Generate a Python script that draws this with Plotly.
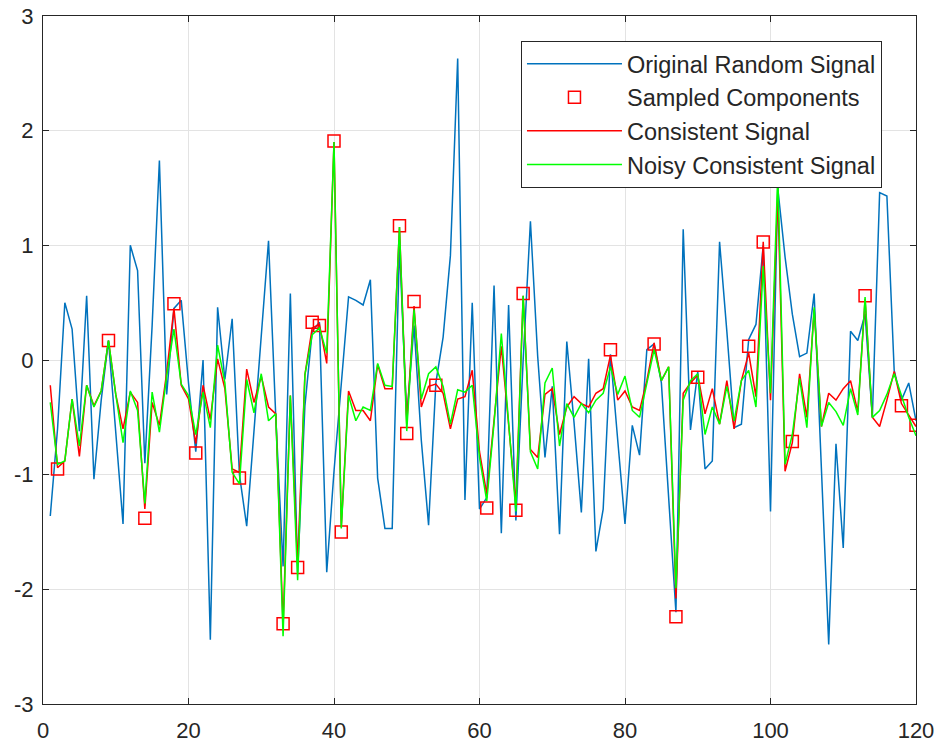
import plotly.graph_objects as go

# ---------------- data ----------------
n = list(range(1, 121))

original = [
    -1.36, -0.60, 0.50, 0.27, -0.62, 0.56, -1.04, -0.35, 0.17, -0.60,
    -1.43, 1.00, 0.78, -0.90, 0.30, 1.74, -0.30, 0.45, 0.52, -0.20,
    -0.80, 0.00, -2.44, 0.46, -0.17, 0.36, -1.00, -1.45, -0.63, 0.20,
    1.04, -0.50, -1.80, 0.58, -1.85, -0.40, 0.25, 0.33, -1.85, -0.97,
    -0.20, 0.55, 0.52, 0.48, 0.70, -1.03, -1.47, -1.47, 1.00, -0.50,
    0.30, -0.70, -1.44, -0.20, 0.20, 0.91, 2.63, -1.22, 0.50, -1.30,
    -1.20, 0.65, -1.51, 0.48, -1.40, 0.00, 1.21, 0.03, -0.85, -0.23,
    -1.52, 0.16, -0.55, -1.33, 0.01, -1.67, -1.30, 0.05, -0.70, -1.43,
    -0.57, -0.83, 0.09, 0.14, -0.20, -1.20, -2.20, 1.14, -0.61, -0.10,
    -0.95, -0.88, 1.03, 0.25, -0.59, -0.56, 0.18, 0.31, 1.00, -1.32,
    1.50, 0.90, 0.40, 0.03, 0.06, 0.58, -0.95, -2.48, -0.73, -1.64,
    0.25, 0.17, 0.40, -0.50, 1.46, 1.43, -0.09, -0.35, -0.20, -0.53,
]

consistent = [
    -0.22, -0.94, -0.88, -0.34, -0.84, -0.22, -0.40, -0.27, 0.17, -0.30,
    -0.60, -0.28, -0.37, -1.30, -0.37, -0.57, -0.11, 0.45, -0.22, -0.34,
    -0.73, -0.22, -0.52, 0.01, -0.25, -0.95, -0.98, -0.08, -0.37, -0.14,
    -0.41, -0.47, -2.32, -0.31, -1.78, -0.13, 0.28, 0.31, -0.03, 1.90,
    -1.46, -0.27, -0.44, -0.44, -0.53, -0.04, -0.25, -0.25, 1.16, -0.56,
    0.47, -0.41, -0.23, -0.21, -0.29, -0.60, -0.34, -0.32, -0.09, -0.80,
    -1.17, -0.50, 0.12, -0.56, -1.26, 0.56, -0.78, -0.85, -0.30, -0.25,
    -0.65, -0.41, -0.32, -0.38, -0.41, -0.29, -0.25, 0.04, -0.35, -0.27,
    -0.41, -0.44, -0.18, 0.15, -0.18, -0.06, -2.08, -0.29, -0.20, -0.13,
    -0.47, -0.25, -0.56, -0.18, -0.60, -0.18, 0.06, -0.32, 1.03, -0.35,
    1.45, -0.97, -0.72, -0.12, -0.50, 0.44, -0.58, -0.29, -0.35, -0.25,
    -0.18, -0.45, 0.53, -0.50, -0.58, -0.35, -0.10, -0.38, -0.48, -0.58,
]

noisy = [
    -0.37, -0.91, -0.88, -0.34, -0.75, -0.22, -0.41, -0.27, 0.17, -0.30,
    -0.72, -0.27, -0.44, -1.25, -0.28, -0.63, -0.14, 0.27, -0.21, -0.31,
    -0.65, -0.28, -0.59, 0.13, -0.20, -0.98, -1.08, -0.17, -0.46, -0.12,
    -0.53, -0.47, -2.41, -0.31, -1.92, -0.13, 0.22, 0.28, 0.06, 1.90,
    -1.47, -0.31, -0.53, -0.41, -0.44, -0.03, -0.22, -0.23, 1.16, -0.62,
    0.44, -0.34, -0.12, -0.06, -0.23, -0.56, -0.26, -0.28, -0.22, -0.85,
    -1.23, -0.55, 0.23, -0.52, -1.32, 0.56, -0.80, -0.95, -0.20, -0.07,
    -0.75, -0.38, -0.50, -0.38, -0.46, -0.35, -0.29, -0.06, -0.30, -0.14,
    -0.44, -0.50, -0.20, 0.09, -0.18, -0.06, -1.99, -0.35, -0.18, -0.12,
    -0.65, -0.41, -0.56, -0.23, -0.53, -0.18, -0.09, -0.41, 0.82, -0.29,
    1.62, -0.91, -0.65, -0.16, -0.59, 0.46, -0.58, -0.37, -0.45, -0.57,
    -0.25, -0.48, 0.55, -0.50, -0.44, -0.30, -0.12, -0.32, -0.50, -0.66,
]

sample_idx = [2, 9, 14, 18, 21, 27, 33, 35, 37, 38, 40, 41, 49, 50, 51, 54,
              61, 65, 66, 78, 84, 87, 90, 97, 99, 103, 113, 118, 120]
sample_val = [-0.95, 0.17, -1.38, 0.49, -0.81, -1.03, -2.30, -1.81, 0.33, 0.30,
              1.91, -1.50, 1.17, -0.64, 0.51, -0.22, -1.29, -1.31, 0.58, 0.09,
              0.14, -2.24, -0.15, 0.12, 1.03, -0.71, 0.56, -0.40, -0.57]

x_ticks = [0, 20, 40, 60, 80, 100, 120]
x_ticktext = ["0", "20", "40", "60", "80", "100", "120"]
y_ticks = [-3, -2, -1, 0, 1, 2, 3]
y_ticktext = ["-3", "-2", "-1", "0", "1", "2", "3"]

# ---------------- figure ----------------
FONT = "Liberation Sans, Arial, sans-serif"
DARK = "#262626"
GRID = "#e3e3e3"

fig = go.Figure()
fig.add_trace(go.Scatter(x=n, y=original, mode="lines", name="Original Random Signal",
                         legendgroup="a", line=dict(color="#0072BD", width=1.5)))
fig.add_trace(go.Scatter(x=sample_idx, y=sample_val, mode="markers", name="Sampled Components",
                         legendgroup="b",
                         marker=dict(symbol="square-open", size=12, color="#FF0000",
                                     line=dict(width=1.5, color="#FF0000"))))
fig.add_trace(go.Scatter(x=n, y=consistent, mode="lines", name="Consistent Signal",
                         legendgroup="c", line=dict(color="#FF0000", width=1.5)))
fig.add_trace(go.Scatter(x=n, y=noisy, mode="lines", name="Noisy Consistent Signal",
                         legendgroup="d", line=dict(color="#00FF00", width=1.5)))

axis_common = dict(
    showgrid=True, gridcolor=GRID, gridwidth=1,
    showline=True, linecolor=DARK, linewidth=1, mirror="ticks",
    ticks="inside", ticklen=6, tickcolor=DARK, tickwidth=1,
    zeroline=False, automargin=False,
    tickfont=dict(family=FONT, size=22, color=DARK),
)

fig.update_layout(
    width=939, height=747,
    margin=dict(l=43, r=23, t=16, b=43),
    paper_bgcolor="white", plot_bgcolor="white",
    font=dict(family=FONT, size=22, color=DARK),
    xaxis=dict(range=[0, 120], tickvals=x_ticks, ticktext=x_ticktext,
               ticklabelstandoff=7, **axis_common),
    yaxis=dict(range=[-3, 3], tickvals=y_ticks, ticktext=y_ticktext,
               ticklabelstandoff=4, **axis_common),
    showlegend=True,
    legend=dict(
        x=0.5475, y=0.9637, xanchor="left", yanchor="top",
        bgcolor="white", bordercolor=DARK, borderwidth=1,
        font=dict(family=FONT, size=23.5, color=DARK),
        itemwidth=95, tracegroupgap=0, traceorder="normal",
    ),
)

fig.write_html("out.html")
